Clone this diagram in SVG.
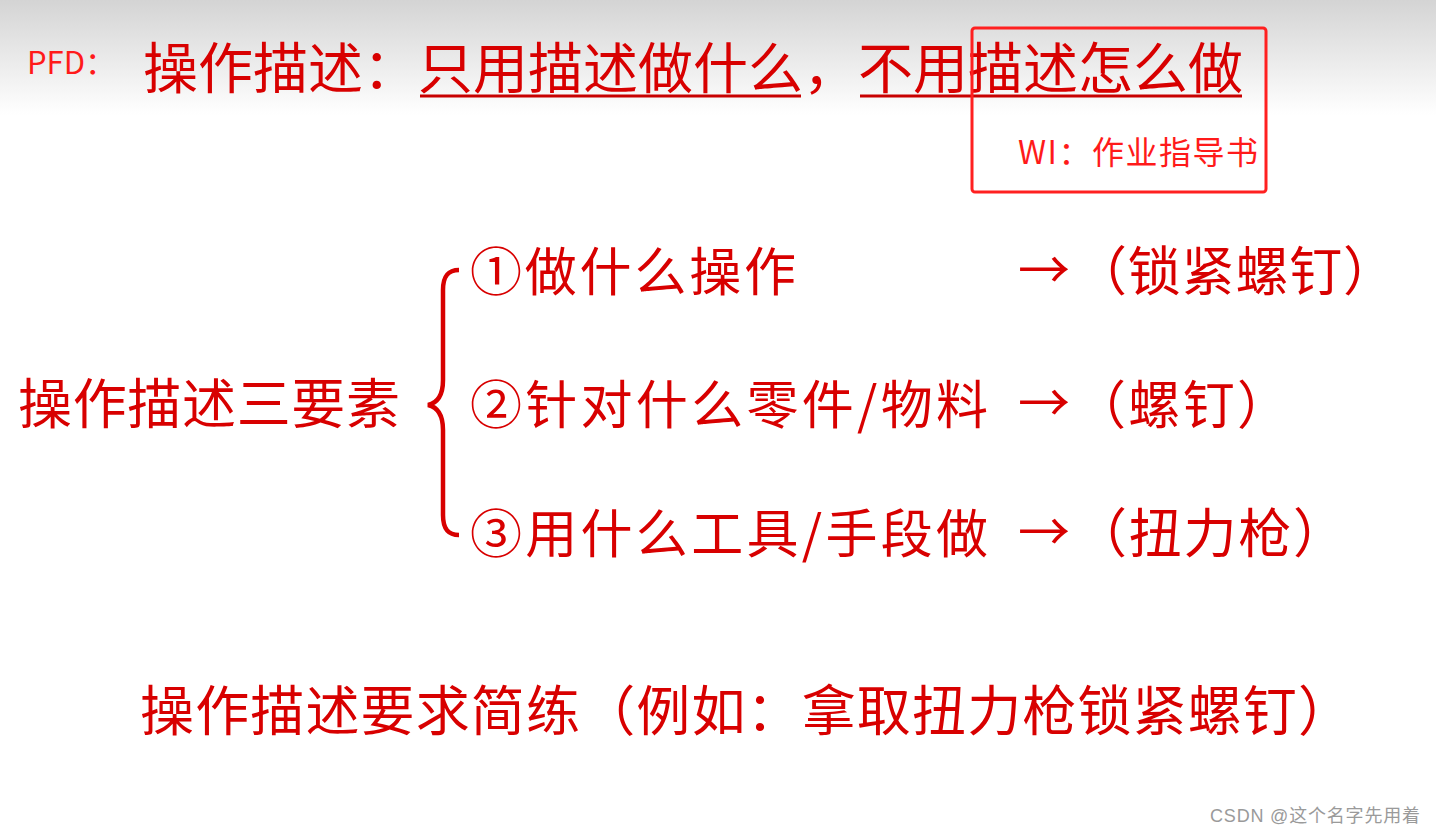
<svg xmlns="http://www.w3.org/2000/svg" width="1436" height="833" viewBox="0 0 1436 833">
<defs>
<linearGradient id="bg" x1="0" y1="0" x2="0" y2="1">
<stop offset="0" stop-color="#d4d4d4"/>
<stop offset="1" stop-color="#ffffff"/>
</linearGradient>
<style>
text{text-spacing-trim:space-all;}
.m{font-family:"Noto Sans CJK SC","Noto Sans",sans-serif;fill:#d80000;}
.a{font-family:"Noto Sans CJK SC","Noto Sans",sans-serif;fill:#ff1a1a;}
.w{font-family:"Liberation Sans","Noto Sans CJK SC",sans-serif;fill:#9a9a9a;font-size:18px;}
.ln{stroke:#c80000;stroke-width:3;fill:none;}
</style>
</defs>
<rect width="1436" height="833" fill="#fff"/>
<rect width="1436" height="115" fill="url(#bg)"/>
<g id="title">
<text class="a" x="27" y="74" font-size="31">PFD：</text>
<text class="m" x="143" y="88" font-size="55" textLength="1100" lengthAdjust="spacing">操作描述：只用描述做什么，不用描述怎么做</text>
<line class="ln" x1="420" y1="96" x2="801" y2="96"/>
<line class="ln" x1="860" y1="96" x2="1242" y2="96"/>
</g>
<g id="wi-box">
<rect x="972" y="28" width="294" height="164" rx="3" fill="none" stroke="#ff2020" stroke-width="3"/>
<text class="a" x="1018" y="164" font-size="32" textLength="240" lengthAdjust="spacing">WI：作业指导书</text>
</g>
<g id="root">
<text class="m" x="18" y="424" font-size="54" textLength="382" lengthAdjust="spacing">操作描述三要素</text>
</g>
<g id="connectors">
<path d="M459,270 C448,270 443,276 443,290 L443,380 C443,396 437,403 428,405 C437,407 443,414 443,430 L443,515 C443,529 448,535 459,535" fill="none" stroke="#d80000" stroke-width="4.5"/>
</g>
<g id="item1">
<text class="m" x="470" y="291" font-size="52" textLength="326" lengthAdjust="spacing">①做什么操作</text>
<text class="m" x="1018" y="289" font-size="52">→</text>
<text class="m" x="1074" y="291" font-size="53" textLength="322" lengthAdjust="spacing">（锁紧螺钉）</text>
</g>
<g id="item2">
<text class="m" x="470" y="424" font-size="52" textLength="518" lengthAdjust="spacing">②针对什么零件/物料</text>
<text class="m" x="1018" y="422" font-size="52">→</text>
<text class="m" x="1074" y="424" font-size="52" textLength="215" lengthAdjust="spacing">（螺钉）</text>
</g>
<g id="item3">
<text class="m" x="470" y="553" font-size="52" textLength="518" lengthAdjust="spacing">③用什么工具/手段做</text>
<text class="m" x="1018" y="551" font-size="52">→</text>
<text class="m" x="1074" y="553" font-size="53" textLength="272" lengthAdjust="spacing">（扭力枪）</text>
</g>
<g id="note">
<text class="m" x="140" y="731" font-size="54" textLength="1212" lengthAdjust="spacing">操作描述要求简练（例如：拿取扭力枪锁紧螺钉）</text>
</g>
<text class="w" x="1210" y="822" textLength="210" lengthAdjust="spacing">CSDN @这个名字先用着</text>
</svg>
